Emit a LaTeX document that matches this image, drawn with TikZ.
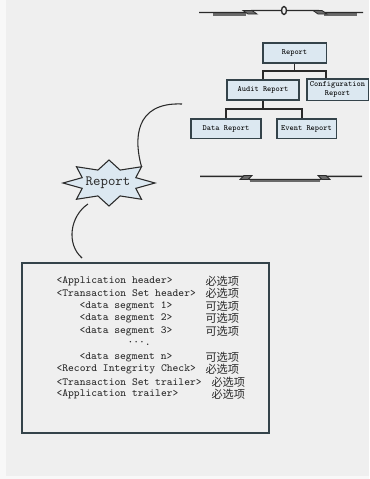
\documentclass[tikz,border=0pt]{standalone}
\usepackage{fontspec}
\newfontfamily\cjk{Noto Sans CJK SC}
\usetikzlibrary{shadows}
\definecolor{bgcol}{HTML}{EFEFEF}
\definecolor{edgecol}{HTML}{F8F8F8}
\definecolor{boxfill}{HTML}{DCE8F1}
\definecolor{boxline}{HTML}{34434A}
\definecolor{inkcol}{HTML}{2A2A2A}
\definecolor{barcol}{HTML}{6A6A6A}

\begin{document}
\begin{tikzpicture}[x=0.75pt,y=-0.75pt,thick,
    tree box/.style={draw=boxline,fill=boxfill,line width=0.8pt,inner sep=0pt,align=center,
        font=\fontsize{6}{6.6}\selectfont\ttfamily,
        drop shadow={shadow xshift=0.7pt,shadow yshift=-0.7pt,fill=boxline,opacity=1}},
    link/.style={draw=inkcol,line width=0.9pt},
    wire/.style={draw=inkcol,line width=0.8pt},
    break/.style={draw=inkcol,line width=1.1pt,line join=miter},
    notch/.style={draw=inkcol,line width=0.6pt,fill=barcol},
    seg line/.style={anchor=west,inner sep=0pt,text=inkcol,font=\fontsize{8.2}{9}\selectfont\ttfamily},
    opt mark/.style={anchor=west,inner sep=0pt,text=inkcol,font=\fontsize{8.4}{9}\selectfont\cjk}]

    \useasboundingbox (0,0) rectangle (369,479);

    % background
    \fill[bgcol] (0,0) rectangle (369,479);
    \fill[edgecol] (0,0) rectangle (6,479);
    \fill[edgecol] (0,476) rectangle (369,479);

    % top break line
    \draw[line width=1.6pt,barcol] (213,14.5) -- (246,14.5);
    \draw[line width=1.6pt,barcol] (324,14.5) -- (357,14.5);
    \draw[break] (199,12.5) -- (246,12.5) -- (252,10.5) -- (318,10.5) -- (324,12.5) -- (363,12.5);
    \draw[notch] (243,10.5) -- (252,10.5) -- (257,14) -- (248,14) -- cycle;
    \draw[notch] (313,10.5) -- (322,10.5) -- (327,14) -- (318,14) -- cycle;
    \draw[line width=1pt,inkcol,fill=bgcol] (284,10.5) ellipse (2.5 and 4);

    % tree
    \node[tree box,minimum width=47.3pt,minimum height=15pt]   (rep) at (294.5,53)   {Report};
    \node[tree box,minimum width=54pt,minimum height=15pt]     (aud) at (263,90)     {Audit Report};
    \node[tree box,minimum width=45.8pt,minimum height=15.8pt] (cfg) at (337.5,89.5) {Configuration\\Report};
    \node[tree box,minimum width=52.5pt,minimum height=14.3pt] (dat) at (226,128.5)  {Data Report};
    \node[tree box,minimum width=44.3pt,minimum height=14.3pt] (evt) at (306.5,128.5) {Event Report};

    \coordinate (j1) at (294.5,71);
    \coordinate (j2) at (263,109);
    \draw[link] (rep.south) -- (j1);
    \draw[link] (aud.north) |- (j1) -| ([xshift=-8.6pt]cfg.north);
    \draw[link] (aud.south) -- (j2);
    \draw[link] (dat.north) |- (j2) -| ([xshift=-3.4pt]evt.north);

    % bottom break line
    \draw[break] (200,176.3) -- (244,176.3) -- (250,179.5) -- (320,179.5) -- (326,176.3) -- (362,176.3);
    \draw[line width=1.4pt,barcol] (250,181) -- (320,181);
    \draw[notch] (240,179.5) -- (244,175.5) -- (252,175.5) -- (248,179.5) -- cycle;
    \draw[notch] (318,175.5) -- (326,175.5) -- (330,179.5) -- (322,179.5) -- cycle;

    % star
    \begin{scope}[shift={(109,183)}]
        \draw[line width=0.8pt,draw=inkcol,fill=boxfill] (90:46 and 23)
            \foreach \a in {0,45,...,315} { -- ({\a+112.5}:29 and 14) -- ({\a+135}:46 and 23)} -- cycle;
        \coordinate (st-ur) at (-45:46 and 23);
        \coordinate (st-bl) at (-21,21);
    \end{scope}
    \node[inner sep=0pt,text=inkcol,font=\fontsize{10.6}{12}\selectfont\ttfamily] (star) at (108,183) {Report};

    \coordinate (up-end) at (182,104);
    \coordinate (dn-end) at (82,258);
    \draw[wire] (st-ur) .. controls (134,140) and (134,102) .. (up-end);
    \draw[wire] (st-bl) .. controls (70,216) and (66,244) .. (dn-end);

    % message layout
    \node[draw=boxline,line width=0.9pt,minimum width=185.3pt,minimum height=127.5pt] (msg) at (145.5,348) {};

    \node[seg line] (l1)  at (56,281) {<Application header>};
    \node[seg line] (l2)  at (56,293) {<Transaction Set header>};
    \node[seg line] (l3)  at (79,306) {<data segment 1>};
    \node[seg line] (l4)  at (79,318) {<data segment 2>};
    \node[seg line] (l5)  at (79,331) {<data segment 3>};
    \node[seg line] (l6)  at (127,343) {···.};
    \node[seg line] (l7)  at (79,357) {<data segment n>};
    \node[seg line] (l8)  at (56,369) {<Record Integrity Check>};
    \node[seg line] (l9)  at (56,382) {<Transaction Set trailer>};
    \node[seg line] (l10) at (56,394) {<Application trailer>};

    \node[opt mark] (m1)  at (205,281) {必选项};
    \node[opt mark] (m2)  at (205,293) {必选项};
    \node[opt mark] (m3)  at (205,306) {可选项};
    \node[opt mark] (m4)  at (205,318) {可选项};
    \node[opt mark] (m5)  at (205,331) {可选项};
    \node[opt mark] (m7)  at (205,357) {可选项};
    \node[opt mark] (m8)  at (205,369) {必选项};
    \node[opt mark] (m9)  at (211,382) {必选项};
    \node[opt mark] (m10) at (211,394) {必选项};

\end{tikzpicture}
\end{document}
